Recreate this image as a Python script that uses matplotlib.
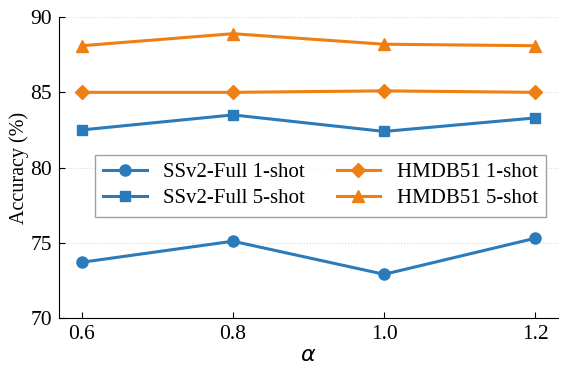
import numpy as np
import matplotlib
matplotlib.use('Agg')
import matplotlib.pyplot as plt

plt.rcParams['font.family'] = ['Liberation Serif', 'DejaVu Serif']
plt.rcParams['mathtext.fontset'] = 'dejavusans'

# 数据
alpha = [0.6, 0.8, 1.0, 1.2]
ssv2_1shot = [73.7, 75.1, 72.9, 75.3]
ssv2_5shot = [82.5, 83.5, 82.4, 83.3]
hmdb_1shot = [85.0, 85.0, 85.1, 85.0]
hmdb_5shot = [88.1, 88.9, 88.2, 88.1]

blue = '#2b7bba'
orange = '#f07f12'

fig = plt.figure(figsize=(5.62, 3.65), dpi=100)
ax = fig.add_axes([0.105, 0.129, 0.888, 0.824])

ax.plot(alpha, ssv2_1shot, color=blue, marker='o', lw=2.2, ms=8, label='SSv2-Full 1-shot')
ax.plot(alpha, ssv2_5shot, color=blue, marker='s', lw=2.2, ms=7.5, label='SSv2-Full 5-shot')
ax.plot(alpha, hmdb_1shot, color=orange, marker='D', lw=2.2, ms=7.5, label='HMDB51 1-shot')
ax.plot(alpha, hmdb_5shot, color=orange, marker='^', lw=2.2, ms=8.5, label='HMDB51 5-shot')

ax.set_ylim(70, 90)
ax.set_yticks([70, 75, 80, 85, 90])
ax.set_xticks(alpha)
ax.set_xticklabels(['0.6', '0.8', '1.0', '1.2'])
ax.tick_params(direction='in', labelsize=15.5, length=4, pad=5)
ax.grid(axis='y', linestyle=':', color='#d8d8d8', lw=0.8)
ax.set_axisbelow(True)
for s in ['top', 'right']:
    ax.spines[s].set_visible(False)

ax.set_xlabel(r'$\alpha$', fontsize=16, labelpad=2)
ax.set_ylabel('Accuracy (%)', fontsize=14.5, labelpad=1)

leg = ax.legend(ncol=2, loc='center', bbox_to_anchor=(0.524, 0.44), fontsize=15,
                fancybox=False, edgecolor='#888888', handlelength=2.1,
                columnspacing=1.5, borderpad=0.4, labelspacing=0.3)
leg.get_frame().set_linewidth(1.0)

plt.savefig('out.png', dpi=100)
